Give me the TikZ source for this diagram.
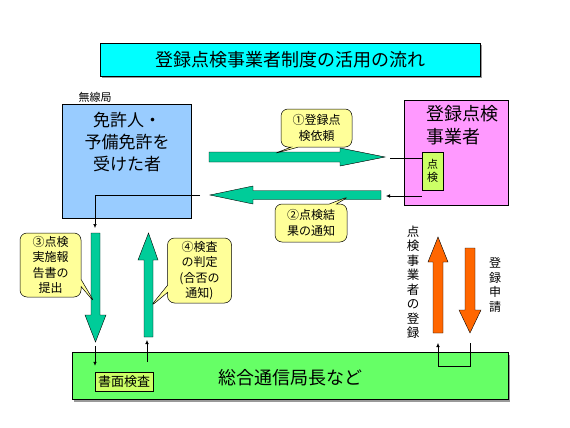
\documentclass[tikz,border=0pt]{standalone}
\usepackage{fontspec}
\setmainfont{Noto Sans CJK JP}
\usepackage{tikz}
\usetikzlibrary{shapes.callouts,arrows.meta,positioning,calc,shadows}
\definecolor{tkcyan}{HTML}{00FFFF}
\definecolor{tkbleu}{HTML}{99CCFF}
\definecolor{tkrose}{HTML}{FF99FF}
\definecolor{tkvert}{HTML}{66FF66}
\definecolor{tkpomme}{HTML}{CCFF66}
\definecolor{tkjaune}{HTML}{FFFF99}
\definecolor{tkturq}{HTML}{00CC99}
\definecolor{tkorange}{HTML}{FF6600}

\begin{document}
\begin{tikzpicture}[x=1pt,y=-1pt,
  boite/.style={draw=black,line width=0.5pt,rectangle,inner sep=0pt},
  ombre/.style={drop shadow={shadow xshift=2pt,shadow yshift=-2pt,fill=gray!80,opacity=1}},
  bulle/.style={rectangle callout,draw=black,line width=0.5pt,fill=tkjaune,rounded corners=7pt,align=center,inner sep=1pt,font=\fontsize{12}{15.5}\selectfont},
  fleche/.style={draw=black,line width=0.4pt},
  fil/.style={line width=0.5pt,-{Latex[length=4pt,width=3.5pt]}}]
  \useasboundingbox (0,0) rectangle (570,428);
  % boites
  \node[boite,ombre,fill=tkcyan,minimum width=380pt,minimum height=33pt,font=\fontsize{18}{20}\selectfont] (titre) at (290,59.5) {登録点検事業者制度の活用の流れ};
  \node[boite,fill=tkbleu,minimum width=129pt,minimum height=114pt] (menkyo) at (126.5,161) {};
  \node[align=center,font=\fontsize{17}{22}\selectfont] (menkyotxt) at (127,142) {免許人・\\予備免許を\\受けた者};
  \node[font=\fontsize{11}{12}\selectfont] (musen) at (95,97) {無線局};
  \node[boite,fill=tkrose,minimum width=104pt,minimum height=105pt] (jigyo) at (456,152.5) {};
  \node[anchor=west,align=left,font=\fontsize{18}{23}\selectfont] (jigyotxt) at (423,125) {登録点検\\事業者};
  \node[boite,fill=tkpomme,minimum width=21pt,minimum height=38pt,align=center,font=\fontsize{11}{13}\selectfont] (tenken) at (432.5,171) {点\\検};
  \node[boite,ombre,fill=tkvert,minimum width=436pt,minimum height=47pt] (kyoku) at (290,376) {};
  \node[font=\fontsize{18}{20}\selectfont] (kyokutxt) at (290,378) {総合通信局長など};
  \node[boite,fill=tkpomme,minimum width=58pt,minimum height=19pt,font=\fontsize{13}{14}\selectfont] (shomen) at (124,381.5) {書面検査};
  % grosses fleches
  \draw[fleche,fill=tkturq] (209,152)--(340,152)--(340,148)--(385,157)--(340,166)--(340,162)--(209,162)--cycle;
  \draw[fleche,fill=tkturq] (381,190.5)--(253,190.5)--(253,186)--(210,195)--(253,204)--(253,199.5)--(381,199.5)--cycle;
  \draw[fleche,fill=tkturq] (91,233)--(100,233)--(100,315)--(106,315)--(95.5,342)--(85,315)--(91,315)--cycle;
  \draw[fleche,fill=tkturq] (144,337)--(153,337)--(153,260)--(158,260)--(148.5,233)--(138,260)--(144,260)--cycle;
  \draw[fleche,fill=tkorange] (433,333)--(443,333)--(443,262)--(448,262)--(438,237)--(428,262)--(433,262)--cycle;
  \draw[fleche,fill=tkorange] (465,248)--(475,248)--(475,310)--(481,310)--(470,333)--(459,310)--(465,310)--cycle;
  % textes verticaux
  \node[align=center,font=\fontsize{12.5}{14.5}\selectfont] (tourokuA) at (413,282) {点\\検\\事\\業\\者\\の\\登\\録};
  \node[align=center,font=\fontsize{12}{14.5}\selectfont] (tourokuB) at (495,285) {登\\録\\申\\請};
  % bulles
  \node[bulle,minimum width=71pt,minimum height=38pt,callout absolute pointer={(273,154)}] (b1) at (316.5,128) {①登録点\\検依頼};
  \node[bulle,minimum width=72pt,minimum height=38pt,callout absolute pointer={(350,196)}] (b2) at (311,223) {②点検結\\果の通知};
  \node[bulle,minimum width=61pt,minimum height=64pt,callout absolute pointer={(95,303)}] (b3) at (50.5,265) {③点検\\実施報\\告書の\\提出};
  \node[bulle,minimum width=64pt,minimum height=65pt,callout absolute pointer={(150,307)}] (b4) at (199.5,270.5) {④検査\\の判定\\(合否の\\通知)};
  % fils
  \coordinate (f1) at (390,158);
  \coordinate (f2) at (200,195);
  \coordinate (f3) at (95,346);
  \coordinate (f4) at (147,362);
  \coordinate (f5) at (470,343);
  \draw[line width=0.5pt] (tenken.west |- f1) -- (f1);
  \draw[fil] (tenken.west |- 0,196) -- (386,196);
  \draw[fil] (f2) -| (95,228);
  \draw[fil] (f3) -- ($(shomen.north -| f3)+(0,-6)$);
  \draw[fil] (f4) -- (147,340);
  \draw[fil] (f5) |- (438,366) -- (438,343);
\end{tikzpicture}
\end{document}
